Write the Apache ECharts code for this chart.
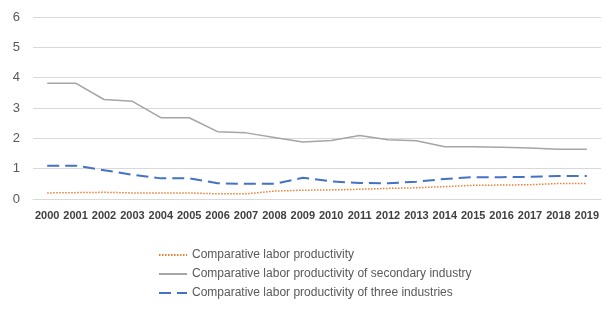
<!DOCTYPE html>
<html>
<head>
<meta charset="utf-8">
<script src="https://cdn.jsdelivr.net/npm/echarts@6/dist/echarts.min.js"></script>
<style>
  html, body { margin: 0; padding: 0; background: #fff; }
  #chart { width: 604px; height: 309px; }
</style>
</head>
<body>
<div id="chart"></div>
<script>
// years on the x axis
var years = ["2000", "2001", "2002", "2003", "2004", "2005", "2006", "2007", "2008", "2009",
  "2010", "2011", "2012", "2013", "2014", "2015", "2016", "2017", "2018", "2019"];

// series values
var laborProd = [0.20, 0.21, 0.22, 0.20, 0.20, 0.20, 0.17, 0.17, 0.26, 0.29,
  0.30, 0.32, 0.35, 0.37, 0.41, 0.45, 0.46, 0.47, 0.51, 0.51];
var secondaryProd = [3.82, 3.82, 3.28, 3.22, 2.68, 2.68, 2.22, 2.18, 2.03, 1.88,
  1.93, 2.09, 1.95, 1.92, 1.72, 1.72, 1.71, 1.68, 1.64, 1.64];
var threeProd = [1.10, 1.10, 0.95, 0.80, 0.68, 0.68, 0.52, 0.50, 0.50, 0.70,
  0.58, 0.53, 0.52, 0.57, 0.66, 0.72, 0.72, 0.73, 0.76, 0.76];

var names = [
  "Comparative labor productivity",
  "Comparative labor productivity of secondary industry",
  "Comparative labor productivity of three industries"
];

var chart = echarts.init(document.getElementById("chart"));
chart.setOption({
  animation: false,
  textStyle: { fontFamily: "'Liberation Sans', Arial, sans-serif" },
  grid: { left: 33, right: 3, top: 17, height: 182 },
  legend: {
    orient: "vertical",
    left: 153,
    top: 244,
    itemGap: 7,
    itemWidth: 28,
    itemHeight: 14,
    itemStyle: { opacity: 0 },
    textStyle: { color: "#595959", fontSize: 12 },
    data: names
  },
  xAxis: {
    type: "category",
    data: years,
    boundaryGap: true,
    axisLine: { lineStyle: { color: "#d9d9d9", width: 1 } },
    axisTick: { show: false },
    axisLabel: {
      interval: 0,
      color: "#404040",
      fontSize: 11,
      fontWeight: "bold",
      margin: 11
    }
  },
  yAxis: {
    type: "value",
    min: 0,
    max: 6,
    interval: 1,
    axisLine: { show: false },
    axisTick: { show: false },
    splitLine: { lineStyle: { color: "#d9d9d9", width: 1 } },
    axisLabel: { color: "#595959", fontSize: 13, margin: 13 }
  },
  series: [
    {
      name: names[0],
      type: "line",
      data: laborProd,
      symbol: "none",
      color: "#ed7d31",
      lineStyle: { color: "#ed7d31", width: 1.5, type: [1.5, 1.5] }
    },
    {
      name: names[1],
      type: "line",
      data: secondaryProd,
      symbol: "none",
      color: "#a5a5a5",
      lineStyle: { color: "#a5a5a5", width: 1.5 }
    },
    {
      name: names[2],
      type: "line",
      data: threeProd,
      symbol: "none",
      color: "#4472c4",
      lineStyle: { color: "#4472c4", width: 2, type: [12, 6] }
    }
  ]
});
</script>
</body>
</html>
